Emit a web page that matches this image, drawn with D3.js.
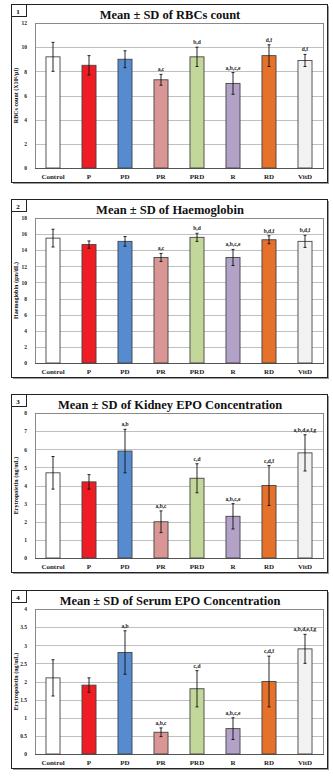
<!DOCTYPE html>
<html>
<head>
<meta charset="utf-8">
<script src="https://cdn.jsdelivr.net/npm/d3@7"></script>
<style>
  body { margin: 0; background: #fff; }
  text { font-family: "Liberation Serif", "DejaVu Serif", serif; font-weight: bold; }
</style>
</head>
<body>
<svg id="chart" width="333" height="777"></svg>
<script>
// categories shared by all four panels
const groups = ['Control', 'P', 'PD', 'PR', 'PRD', 'R', 'RD', 'VitD']
const barColors = ['#ffffff', '#ee1d23', '#568bcf', '#d99694', '#c4d79b', '#b3a2c7', '#e6712a', '#f2f2f2']

// panel 1: RBCs count
const rbcMean = [9.2, 8.5, 9.0, 7.3, 9.2, 7.0, 9.3, 8.9]
const rbcSD = [1.2, 0.8, 0.7, 0.45, 0.8, 0.9, 0.9, 0.5]
const rbcSig = ['', '', '', 'a,c', 'b,d', 'a,b,c,e', 'd,f', 'd,f']
const rbcTicks = [0, 2, 4, 6, 8, 10, 12]

// panel 2: haemoglobin
const hbMean = [15.5, 14.7, 15.1, 13.1, 15.6, 13.1, 15.3, 15.1]
const hbSD = [1.1, 0.45, 0.6, 0.5, 0.5, 1.0, 0.5, 0.75]
const hbSig = ['', '', '', 'a,c', 'b,d', 'a,b,c,e', 'b,d,f', 'b,d,f']
const hbTicks = [0, 2, 4, 6, 8, 10, 12, 14, 16, 18]

// panel 3: kidney EPO
const kidMean = [4.7, 4.2, 5.9, 2.0, 4.4, 2.3, 4.0, 5.8]
const kidSD = [0.9, 0.4, 1.2, 0.6, 0.8, 0.7, 1.1, 1.0]
const kidSig = ['', '', 'a,b', 'a,b,c', 'c,d', 'a,b,c,e', 'c,d,f', 'a,b,d,e,f,g']
const kidTicks = [0, 1, 2, 3, 4, 5, 6, 7, 8]

// panel 4: serum EPO
const serMean = [2.1, 1.9, 2.8, 0.6, 1.8, 0.7, 2.0, 2.9]
const serSD = [0.5, 0.2, 0.6, 0.12, 0.5, 0.3, 0.7, 0.4]
const serSig = ['', '', 'a,b', 'a,b,c', 'c,d', 'a,b,c,e', 'c,d,f', 'a,b,d,e,f,g']
const serTicks = [0, 0.5, 1, 1.5, 2, 2.5, 3, 3.5, 4]

const panels = [
  { num: '1', title: 'Mean ± SD of RBCs count', yLabel: 'RBCs count (X10⁶/µl)', mean: rbcMean, sd: rbcSD, sig: rbcSig, ticks: rbcTicks, top: 4 },
  { num: '2', title: 'Mean ± SD of Haemoglobin', yLabel: 'Haemoglobin (gm/dL)', mean: hbMean, sd: hbSD, sig: hbSig, ticks: hbTicks, top: 199 },
  { num: '3', title: 'Mean ± SD of Kidney EPO Concentration', yLabel: 'Erytropoietin (ng/mL)', mean: kidMean, sd: kidSD, sig: kidSig, ticks: kidTicks, top: 394 },
  { num: '4', title: 'Mean ± SD of Serum EPO Concentration', yLabel: 'Erytropoietin (ng/mL)', mean: serMean, sd: serSD, sig: serSig, ticks: serTicks, top: 590 }
]

const svg = d3.select('#chart')

const margin = { left: 35, right: 323 }

function drawPanel(p) {
  let g = svg.append('g').attr('transform', `translate(0, ${p.top})`)

  // frame with a soft shadow
  g.append('rect')
    .attr('x', 13).attr('y', 2).attr('width', 316).attr('height', 178)
    .attr('fill', '#9a9a9a')
  g.append('rect')
    .attr('x', 11.5).attr('y', 0.5).attr('width', 316).attr('height', 178)
    .attr('fill', '#fff').attr('stroke', '#222').attr('stroke-width', 1)

  // number box
  g.append('rect')
    .attr('x', 11.5).attr('y', 0.5).attr('width', 15).attr('height', 12)
    .attr('fill', '#fff').attr('stroke', '#222').attr('stroke-width', 1)
  g.append('text')
    .attr('x', 18).attr('y', 9.5)
    .attr('text-anchor', 'middle')
    .attr('font-size', 7)
    .text(p.num)

  g.append('text')
    .attr('x', 170).attr('y', 14.5)
    .attr('text-anchor', 'middle')
    .attr('font-size', 12.5)
    .attr('fill', '#111')
    .text(p.title)

  const plotTop = 19, plotBottom = 164

  const x = d3.scaleBand()
    .domain(groups)
    .range([margin.left, margin.right])
    .paddingInner(0.61)
    .paddingOuter(0.305)

  const y = d3.scaleLinear()
    .domain([0, d3.max(p.ticks)])
    .range([plotBottom, plotTop])

  // gridlines
  g.append('g')
    .selectAll('line')
    .data(p.ticks.slice(1))
    .join('line')
      .attr('x1', margin.left).attr('x2', margin.right)
      .attr('y1', d => Math.round(y(d)) + 0.5).attr('y2', d => Math.round(y(d)) + 0.5)
      .attr('stroke', '#c0c0c0').attr('stroke-width', 1)

  // plot area border
  g.append('rect')
    .attr('x', margin.left + 0.5).attr('y', plotTop + 0.5)
    .attr('width', margin.right - margin.left).attr('height', plotBottom - plotTop)
    .attr('fill', 'none').attr('stroke', '#8a8a8a').attr('stroke-width', 1)
  g.append('line')
    .attr('x1', margin.left).attr('x2', margin.right + 1)
    .attr('y1', plotBottom + 0.5).attr('y2', plotBottom + 0.5)
    .attr('stroke', '#555').attr('stroke-width', 1)

  // y tick labels
  const yAxis = d3.axisLeft(y).tickValues(p.ticks).tickFormat(d => String(d)).tickSize(0).tickPadding(8)
  const ax = g.append('g')
    .attr('transform', `translate(${margin.left}, 0)`)
    .call(yAxis)
  ax.select('.domain').remove()
  ax.selectAll('text')
    .attr('font-size', 5.5)
    .attr('font-family', '"Liberation Serif", serif')
    .attr('font-weight', 'bold')
    .attr('fill', '#222')

  // y axis title
  g.append('text')
    .attr('transform', `translate(17.5, ${(plotTop + plotBottom) / 2}) rotate(-90)`)
    .attr('text-anchor', 'middle')
    .attr('font-size', 6)
    .attr('fill', '#111')
    .text(p.yLabel)

  // x category labels
  g.append('g')
    .selectAll('text')
    .data(groups)
    .join('text')
      .attr('x', d => x(d) + x.bandwidth() / 2)
      .attr('y', 174.5)
      .attr('text-anchor', 'middle')
      .attr('font-size', 7)
      .attr('fill', '#222')
      .text(d => d)

  const rows = groups.map((c, i) => ({ c, m: p.mean[i], s: p.sd[i], sig: p.sig[i], col: barColors[i] }))

  g.append('g')
    .selectAll('rect')
    .data(rows)
    .join('rect')
      .attr('x', d => x(d.c))
      .attr('y', d => y(d.m))
      .attr('width', x.bandwidth())
      .attr('height', d => plotBottom - y(d.m))
      .attr('fill', d => d.col)
      .attr('stroke', '#444')
      .attr('stroke-width', 0.9)

  // error bars
  const eb = g.append('g').attr('stroke', '#111').attr('stroke-width', 0.9)
  rows.forEach(d => {
    const cx = x(d.c) + x.bandwidth() / 2
    eb.append('line').attr('x1', cx).attr('x2', cx).attr('y1', y(d.m + d.s)).attr('y2', y(d.m - d.s))
    eb.append('line').attr('x1', cx - 1.5).attr('x2', cx + 1.5).attr('y1', y(d.m + d.s)).attr('y2', y(d.m + d.s))
    eb.append('line').attr('x1', cx - 1.5).attr('x2', cx + 1.5).attr('y1', y(d.m - d.s)).attr('y2', y(d.m - d.s))
  })

  // significance letters
  g.append('g')
    .selectAll('text')
    .data(rows.filter(d => d.sig))
    .join('text')
      .attr('x', d => x(d.c) + x.bandwidth() / 2)
      .attr('y', d => y(d.m + d.s) - 3)
      .attr('text-anchor', 'middle')
      .attr('font-size', 5.5)
      .attr('fill', '#222')
      .text(d => d.sig)
}

panels.forEach(drawPanel)
</script>
</body>
</html>
